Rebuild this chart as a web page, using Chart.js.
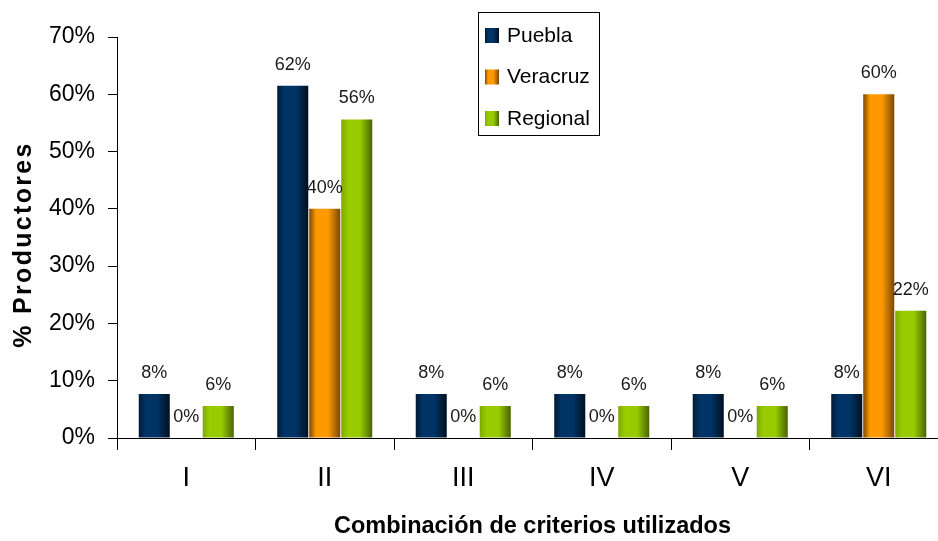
<!DOCTYPE html>
<html>
<head>
<meta charset="utf-8">
<script src="https://cdn.jsdelivr.net/npm/chart.js@4.4.1/dist/chart.umd.min.js"></script>
<style>
  html, body { margin: 0; padding: 0; background: #fff; overflow: hidden; }
  #wrap { width: 950px; height: 541px; }
</style>
</head>
<body>
<div id="wrap"><canvas id="chart" width="950" height="541"></canvas></div>
<script>
// ---- data ----
const categories = ['I', 'II', 'III', 'IV', 'V', 'VI'];
const puebla = [7.7, 61.5, 7.7, 7.7, 7.7, 7.7];
const veracruz = [0, 40, 0, 0, 0, 60];
const regional = [5.6, 55.6, 5.6, 5.6, 5.6, 22.2];
const yTicks = [0, 10, 20, 30, 40, 50, 60, 70];

const FONT = "'Liberation Sans', Arial, sans-serif";

// colours: base + dark edge for the cylinder-ish shading
const shades = {
  Puebla:   { base: '#003366', left: '#001a33', right: '#00101f' },
  Veracruz: { base: '#ff9900', left: '#7a4800', right: '#7a4800' },
  Regional: { base: '#99cc00', left: '#7fa800', right: '#4a6300' }
};

function barGradient(ctx, name, x0, x1) {
  const s = shades[name];
  const g = ctx.createLinearGradient(x0, 0, x1, 0);
  g.addColorStop(0, s.left);
  g.addColorStop(0.22, s.base);
  g.addColorStop(0.6, s.base);
  g.addColorStop(1, s.right);
  return g;
}

// paint each bar with its own horizontal gradient
const shadePlugin = {
  id: 'shade',
  beforeDatasetsDraw(chart) {
    const ctx = chart.ctx;
    chart.data.datasets.forEach((ds, i) => {
      chart.getDatasetMeta(i).data.forEach(bar => {
        const x0 = bar.x - bar.width / 2, x1 = bar.x + bar.width / 2;
        bar.options = Object.assign({}, bar.options, {
          backgroundColor: barGradient(ctx, ds.label, x0, x1)
        });
      });
    });
  }
};

// % labels above every bar
const valueLabels = {
  id: 'valueLabels',
  afterDatasetsDraw(chart) {
    const ctx = chart.ctx;
    ctx.save();
    ctx.font = '18px ' + FONT;
    ctx.fillStyle = '#1a1a1a';
    ctx.textAlign = 'center';
    ctx.textBaseline = 'alphabetic';
    chart.data.datasets.forEach((ds, i) => {
      chart.getDatasetMeta(i).data.forEach((bar, j) => {
        ctx.fillText(Math.round(ds.data[j]) + '%', bar.x, bar.y - 16);
      });
    });
    ctx.restore();
  }
};

// boxed legend inside the plot + rotated, letter-spaced y title
const decor = {
  id: 'decor',
  afterDraw(chart) {
    const ctx = chart.ctx;
    const area = chart.chartArea;
    ctx.save();

    // legend box
    ctx.fillStyle = '#fff';
    ctx.fillRect(478.5, 12.5, 121, 123);
    ctx.strokeStyle = '#000';
    ctx.lineWidth = 1;
    ctx.strokeRect(478.5, 12.5, 121, 123);
    ctx.font = '21px ' + FONT;
    ctx.textBaseline = 'middle';
    ctx.textAlign = 'left';
    chart.data.datasets.forEach((ds, i) => {
      const cy = 35 + i * 41.5;
      ctx.fillStyle = barGradient(ctx, ds.label, 485, 499);
      ctx.fillRect(485, cy - 7, 14, 15);
      ctx.fillStyle = '#000';
      ctx.fillText(ds.label, 507, cy + 1);
    });

    // y axis title
    ctx.translate(24, (area.top + area.bottom) / 2 + 7);
    ctx.rotate(-Math.PI / 2);
    ctx.font = 'bold 25px ' + FONT;
    ctx.letterSpacing = '2.3px';
    ctx.fillStyle = '#000';
    ctx.textAlign = 'center';
    ctx.textBaseline = 'middle';
    ctx.fillText('% Productores', 0, 0);
    ctx.restore();
  }
};

new Chart(document.getElementById('chart'), {
  type: 'bar',
  data: {
    labels: categories,
    datasets: [
      { label: 'Puebla', data: puebla, backgroundColor: shades.Puebla.base },
      { label: 'Veracruz', data: veracruz, backgroundColor: shades.Veracruz.base },
      { label: 'Regional', data: regional, backgroundColor: shades.Regional.base }
    ]
  },
  options: {
    responsive: false,
    animation: false,
    categoryPercentage: 0.693,
    barPercentage: 0.97,
    layout: { padding: { top: 37, right: 2, left: 0, bottom: 0 } },
    plugins: {
      legend: { display: false },
      tooltip: { enabled: false }
    },
    scales: {
      x: {
        afterFit(scale) { scale.height = 103; },
        border: { color: '#000', width: 1 },
        grid: { offset: true, drawOnChartArea: false, drawTicks: true, tickLength: 12, color: '#000' },
        ticks: { color: '#000', padding: 12, font: { family: FONT, size: 27 } },
        title: {
          display: true,
          text: 'Combinación de criterios utilizados',
          color: '#000',
          padding: { top: 0, bottom: 0 },
          font: { family: FONT, size: 23.5, weight: 'bold' }
        }
      },
      y: {
        min: 0,
        max: 70,
        afterFit(scale) { scale.width = 117; },
        afterBuildTicks(scale) { scale.ticks = yTicks.map(v => ({ value: v })); },
        border: { color: '#000', width: 1 },
        grid: { drawOnChartArea: false, drawTicks: true, tickLength: 9, color: '#000' },
        ticks: {
          color: '#000',
          padding: 13,
          font: { family: FONT, size: 23 },
          callback: v => v + '%'
        }
      }
    }
  },
  plugins: [shadePlugin, valueLabels, decor]
});
</script>
</body>
</html>
